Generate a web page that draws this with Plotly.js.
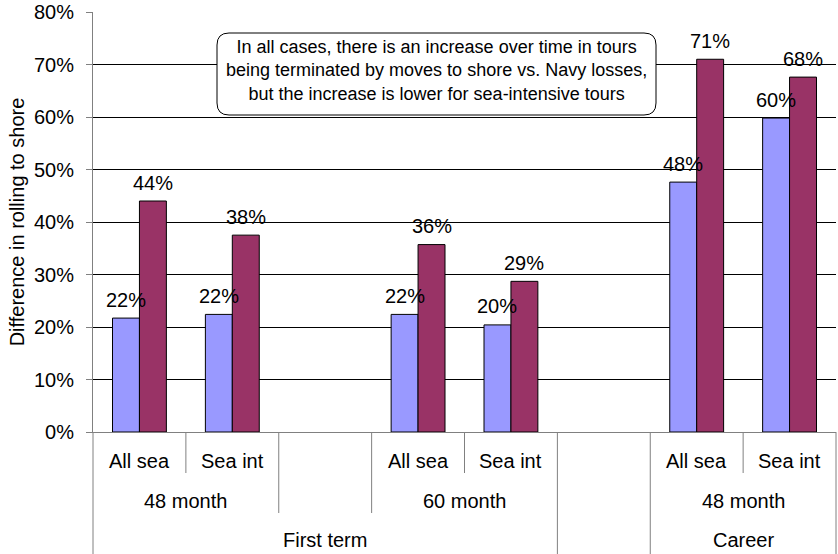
<!DOCTYPE html>
<html>
<head>
<meta charset="utf-8">
<script src="https://cdn.plot.ly/plotly-3.0.1.min.js"></script>
<style>html,body{margin:0;padding:0;background:#fff;}#chart{width:838px;height:554px;}</style>
</head>
<body>
<div id="chart"></div>
<script>
// ---- data ----
const subLabels = ["All sea", "Sea int", "", "All sea", "Sea int", "", "All sea", "Sea int"];
const midLabels = ["48 month", "48 month", "", "60 month", "60 month", "", "48 month", "48 month"];
const topLabels = ["First term", "First term", "First term", "First term", "First term", "", "Career", "Career"];
const seriesA = [21.7, 22.4, null, 22.4, 20.4, null, 47.6, 59.8];
const seriesB = [44.0, 37.5, null, 35.7, 28.7, null, 71.0, 67.6];
const yTicks = [0, 10, 20, 30, 40, 50, 60, 70, 80];
const noteText = "In all cases, there is an increase over time in tours<br>being terminated by moves to shore vs. Navy losses,<br>but the increase is lower for sea-intensive tours";
const yTitle = "Difference in rolling to shore";

// ---- layout constants ----
const W = 838, H = 554;
const M = {l: 93, r: 2, t: 12, b: 122};
const plotW = W - M.l - M.r, plotH = H - M.t - M.b;
const n = subLabels.length;
const catIds = subLabels.map((s, i) => topLabels[i] + "|" + midLabels[i] + "|" + s + "|" + i);
const bargap = 0.42;
const catPx = plotW / n;
const halfBar = (1 - bargap) / 4 * catPx;
const FONT = "Liberation Sans, Arial, sans-serif";
const GREY = "#808080";

const traces = [
  {type: "bar", x: catIds, y: seriesA, name: "A", marker: {color: "#9999FF", line: {color: "#000", width: 1}}, hoverinfo: "y"},
  {type: "bar", x: catIds, y: seriesB, name: "B", marker: {color: "#993366", line: {color: "#000", width: 1}}, hoverinfo: "y"}
];

const shapes = [];
const annotations = [];

// category dividers
const depthShort = 41, depthMid = 81, depthFull = 122;
for (let b = 0; b <= n; b++) {
  let depth;
  if (b === 0 || b === n || topLabels[b - 1] !== topLabels[b]) depth = depthFull;
  else if (midLabels[b - 1] !== midLabels[b] || midLabels[b - 1] === "" || midLabels[b] === "") depth = depthMid;
  else depth = depthShort;
  shapes.push({type: "line", xref: "paper", yref: "paper", ysizemode: "pixel", yanchor: 0,
    x0: b / n, x1: b / n, y0: 0, y1: -depth, line: {color: GREY, width: 1}, layer: "above"});
}

// label rows
function groupRuns(arr) {
  const runs = [];
  let s = 0;
  for (let i = 1; i <= arr.length; i++) {
    if (i === arr.length || arr[i] !== arr[s] || arr[s] === "") {
      if (arr[s] !== "") runs.push({text: arr[s], start: s, end: i - 1});
      s = i;
    }
  }
  return runs;
}
function addRow(arr, offset, merge) {
  const runs = merge ? groupRuns(arr) : arr.map((t, i) => ({text: t, start: i, end: i})).filter(r => r.text !== "");
  runs.forEach(r => annotations.push({
    xref: "paper", yref: "paper", x: (r.start + r.end + 1) / 2 / n, y: 0, yshift: -offset,
    xanchor: "center", yanchor: "middle", showarrow: false, text: r.text,
    font: {family: FONT, size: 20, color: "#000"}
  }));
}
addRow(subLabels, 29, false);
addRow(midLabels, 69, true);
addRow(topLabels, 108, true);

// bar value labels
[[seriesA, -halfBar], [seriesB, halfBar]].forEach(([ser, dx]) => {
  ser.forEach((v, i) => {
    if (v === null) return;
    annotations.push({xref: "x", yref: "y", x: catIds[i], y: v, xshift: dx, yshift: 18.5,
      xanchor: "center", yanchor: "middle", showarrow: false, text: Math.round(v) + "%",
      font: {family: FONT, size: 20, color: "#000"}});
  });
});

// note box (rounded rectangle)
const bx0 = (217 - M.l) / plotW, bx1 = (656 - M.l) / plotW;
const byT = (M.t + plotH - 33) / plotH, byB = (M.t + plotH - 115) / plotH;
const rx = 12 / plotW, ry = 12 / plotH;
const path = `M ${bx0 + rx},${byT} L ${bx1 - rx},${byT} Q ${bx1},${byT} ${bx1},${byT - ry} ` +
  `L ${bx1},${byB + ry} Q ${bx1},${byB} ${bx1 - rx},${byB} L ${bx0 + rx},${byB} Q ${bx0},${byB} ${bx0},${byB + ry} ` +
  `L ${bx0},${byT - ry} Q ${bx0},${byT} ${bx0 + rx},${byT} Z`;
shapes.push({type: "path", xref: "paper", yref: "paper", path: path, fillcolor: "#fff",
  line: {color: "#000", width: 1}, layer: "above"});
annotations.push({xref: "paper", yref: "paper", x: (bx0 + bx1) / 2, y: (M.t + plotH - 71) / plotH,
  xanchor: "center", yanchor: "middle", showarrow: false, text: noteText, align: "center",
  font: {family: FONT, size: 18, color: "#000"}});

const layout = {
  width: W, height: H,
  margin: M,
  paper_bgcolor: "#fff", plot_bgcolor: "#fff",
  showlegend: false,
  barmode: "group", bargap: bargap, bargroupgap: 0,
  font: {family: FONT, size: 20, color: "#000"},
  xaxis: {type: "category", categoryorder: "array", categoryarray: catIds, showticklabels: false,
    ticks: "", showgrid: false, zeroline: false, showline: true, linecolor: GREY, linewidth: 1, fixedrange: true},
  yaxis: {range: [0, 80], tickvals: yTicks, ticktext: yTicks.map(v => v + "%"), ticks: "outside", ticklen: 6,
    tickcolor: GREY, showline: true, linecolor: GREY, linewidth: 1, showgrid: true, gridcolor: "#000", gridwidth: 1,
    zeroline: false, ticklabelstandoff: 8, tickfont: {family: FONT, size: 20, color: "#000"},
    title: {text: yTitle, font: {family: FONT, size: 20, color: "#000"}, standoff: 3}, automargin: false, fixedrange: true},
  shapes: shapes,
  annotations: annotations
};

Plotly.newPlot("chart", traces, layout, {displayModeBar: false, staticPlot: true});
</script>
</body>
</html>
